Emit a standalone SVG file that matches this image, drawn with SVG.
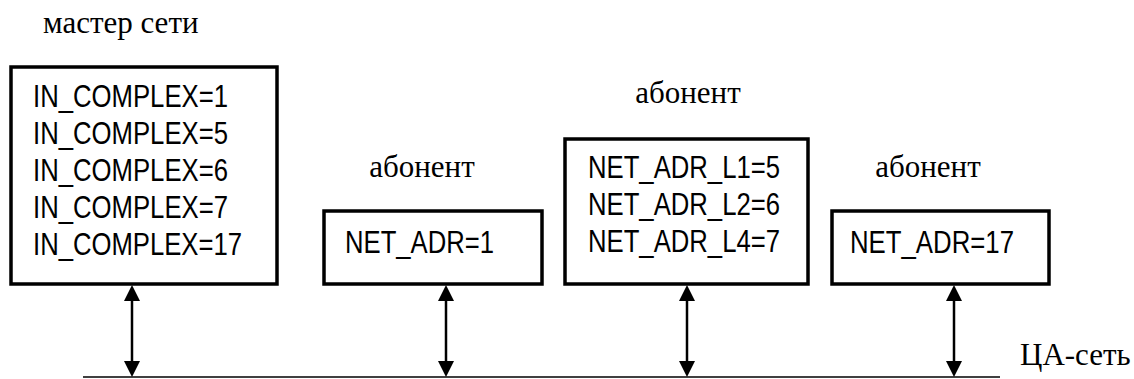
<svg xmlns="http://www.w3.org/2000/svg" width="1134" height="379" viewBox="0 0 1134 379">
  <defs>
    <!-- arrow tip pointing up, tip at the origin -->
    <path id="tip" d="M0,0 L8,16 L-8,16 z" fill="#000"/>
    <style>
      .box { fill: #fff; stroke: #000; stroke-width: 3.5; }
      .mono { font-family: "Liberation Sans", Arial, sans-serif; font-size: 31px; fill: #000; }
      .cap { font-family: "Liberation Serif", "Times New Roman", serif; font-size: 31px; fill: #000; }
      .link { stroke: #000; stroke-width: 2.5; fill: none; }
      .bus { stroke: #000; stroke-width: 1.5; fill: none; }
    </style>
  </defs>

  <rect width="1134" height="379" fill="#fff"/>

  <!-- network master -->
  <g id="master">
    <text class="cap" x="43" y="33">мастер сети</text>
    <rect class="box" x="11" y="67" width="266" height="217"/>
    <text class="mono" x="33" y="107" textLength="195" lengthAdjust="spacingAndGlyphs">IN_COMPLEX=1</text>
    <text class="mono" x="33" y="144" textLength="195" lengthAdjust="spacingAndGlyphs">IN_COMPLEX=5</text>
    <text class="mono" x="33" y="181" textLength="195" lengthAdjust="spacingAndGlyphs">IN_COMPLEX=6</text>
    <text class="mono" x="33" y="218" textLength="195" lengthAdjust="spacingAndGlyphs">IN_COMPLEX=7</text>
    <text class="mono" x="33" y="255" textLength="209" lengthAdjust="spacingAndGlyphs">IN_COMPLEX=17</text>
  </g>

  <!-- subscriber 1 -->
  <g id="sub1">
    <text class="cap" x="422" y="177" text-anchor="middle">абонент</text>
    <rect class="box" x="324" y="211" width="218" height="73"/>
    <text class="mono" x="345" y="253" textLength="149" lengthAdjust="spacingAndGlyphs">NET_ADR=1</text>
  </g>

  <!-- subscriber with several addresses -->
  <g id="sub2">
    <text class="cap" x="688" y="103" text-anchor="middle">абонент</text>
    <rect class="box" x="565" y="139" width="243" height="145"/>
    <text class="mono" x="588" y="178" textLength="192" lengthAdjust="spacingAndGlyphs">NET_ADR_L1=5</text>
    <text class="mono" x="588" y="215" textLength="192" lengthAdjust="spacingAndGlyphs">NET_ADR_L2=6</text>
    <text class="mono" x="588" y="252" textLength="192" lengthAdjust="spacingAndGlyphs">NET_ADR_L4=7</text>
  </g>

  <!-- subscriber 17 -->
  <g id="sub3">
    <text class="cap" x="928" y="177" text-anchor="middle">абонент</text>
    <rect class="box" x="832" y="211" width="217" height="73"/>
    <text class="mono" x="850" y="253" textLength="164" lengthAdjust="spacingAndGlyphs">NET_ADR=17</text>
  </g>

  <!-- bus label -->
  <g id="bus-label">
    <text class="cap" x="1020" y="365">ЦА-сеть</text>
  </g>

  <!-- bus and two-way drop links -->
  <g id="connectors">
    <line class="bus" x1="83" y1="377" x2="1000" y2="377"/>
    <line class="link" x1="132" y1="298" x2="132" y2="364"/>
    <use href="#tip" transform="translate(132 285)"/>
    <use href="#tip" transform="translate(132 377) scale(1 -1)"/>
    <line class="link" x1="446" y1="298" x2="446" y2="364"/>
    <use href="#tip" transform="translate(446 285)"/>
    <use href="#tip" transform="translate(446 377) scale(1 -1)"/>
    <line class="link" x1="687" y1="298" x2="687" y2="364"/>
    <use href="#tip" transform="translate(687 285)"/>
    <use href="#tip" transform="translate(687 377) scale(1 -1)"/>
    <line class="link" x1="954" y1="298" x2="954" y2="364"/>
    <use href="#tip" transform="translate(954 285)"/>
    <use href="#tip" transform="translate(954 377) scale(1 -1)"/>
  </g>
</svg>
